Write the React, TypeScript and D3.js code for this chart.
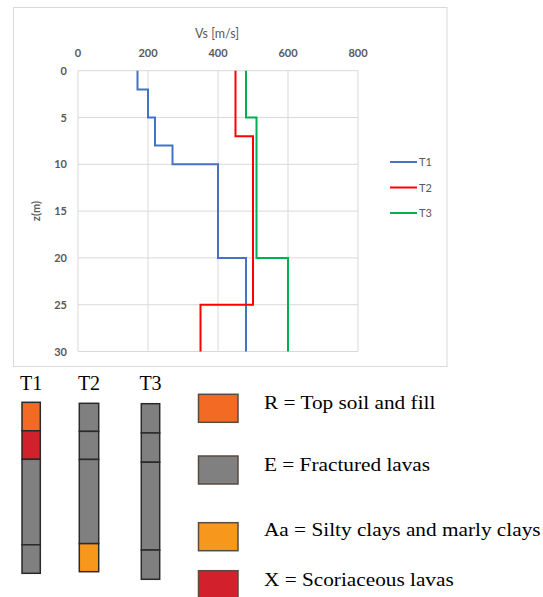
import React from "react";
import * as d3 from "d3";

// velocity profiles (layer tops in m, Vs in m/s)
const maxDepth = 30;
const t1Tops = [0, 2, 5, 8, 10, 20];
const t1Vs = [170, 200, 220, 270, 400, 480];
const t2Tops = [0, 7, 25];
const t2Vs = [450, 500, 350];
const t3Tops = [0, 5, 20];
const t3Vs = [480, 510, 600];

const seriesNames = ["T1", "T2", "T3"];
const seriesColors = ["#4472C4", "#FF0000", "#00B050"];

const vsTicks = [0, 200, 400, 600, 800];
const depthTicks = [0, 5, 10, 15, 20, 25, 30];

// borehole logs
const logBounds = [0, 5, 10, 25, 30];
const t1Layers = ["R", "X", "E", "E"];
const t2Layers = ["E", "E", "E", "Aa"];
const t3Layers = ["E", "E", "E", "E"];

const legendCodes = ["R", "E", "Aa", "X"];
const legendLabels = [
  "R = Top soil and fill",
  "E = Fractured lavas",
  "Aa = Silty clays and marly clays",
  "X = Scoriaceous lavas",
];

const layerColor: Record<string, string> = {
  R: "#F26A23",
  E: "#808080",
  Aa: "#F7981C",
  X: "#D2202C",
};

const W = 543;
const H = 597;

const x = d3.scaleLinear().domain([0, 800]).range([78, 358]);
const y = d3.scaleLinear().domain([0, 30]).range([70.7, 351.5]);

function stepPoints(tops: number[], vs: number[]): [number, number][] {
  const pts: [number, number][] = [];
  tops.forEach((t, i) => {
    const bottom = i < tops.length - 1 ? tops[i + 1] : maxDepth;
    pts.push([vs[i], t]);
    pts.push([vs[i], bottom]);
  });
  return pts;
}

const profiles = [
  stepPoints(t1Tops, t1Vs),
  stepPoints(t2Tops, t2Vs),
  stepPoints(t3Tops, t3Vs),
];

const line = d3
  .line<[number, number]>()
  .x((d) => x(d[0]))
  .y((d) => y(d[1]));

// column placement for each log
const columns = [
  { name: "T1", layers: t1Layers, x0: 22, x1: 40.3, y0: 402.3, y1: 573.3 },
  { name: "T2", layers: t2Layers, x0: 79.3, x1: 98.7, y0: 403.3, y1: 571.7 },
  { name: "T3", layers: t3Layers, x0: 141.3, x1: 159.7, y0: 403.7, y1: 579.3 },
];

const legendBoxY = [394.3, 456, 522.7, 570.7];
const legendTextY = [408.5, 471, 535.5, 585.5];

const axisFont = "Lato, 'Open Sans', sans-serif";
const serif = "'Liberation Serif', 'Times New Roman', serif";

export default function App() {
  return (
    <svg
      width={W}
      height={H}
      style={{ position: "absolute", left: 0, top: 0, background: "#fff" }}
    >
      {/* chart frame */}
      <rect x={13.5} y={7.5} width={433.5} height={359} fill="#fff" stroke="#D9D9D9" strokeWidth={1} />

      {/* grid */}
      {vsTicks.map((t) => (
        <line key={"gx" + t} x1={x(t)} x2={x(t)} y1={y(0)} y2={y(30)} stroke="#D9D9D9" strokeWidth={1} />
      ))}
      {depthTicks.map((t) => (
        <line key={"gy" + t} x1={x(0)} x2={x(800)} y1={y(t)} y2={y(t)} stroke="#D9D9D9" strokeWidth={1} />
      ))}

      {/* tick labels */}
      {vsTicks.map((t) => (
        <text key={"tx" + t} x={x(t)} y={57} textAnchor="middle" fontFamily={axisFont} fontSize={11} fontWeight="bold" fill="#595959">
          {t}
        </text>
      ))}
      {depthTicks.map((t) => (
        <text key={"ty" + t} x={67} y={y(t) + 4} textAnchor="end" fontFamily={axisFont} fontSize={11} fontWeight="bold" fill="#595959">
          {t}
        </text>
      ))}
      <text x={217} y={38} textAnchor="middle" fontFamily={axisFont} fontSize={12.5} fill="#595959">
        Vs [m/s]
      </text>
      <text
        transform={`translate(40,${(y(0) + y(30)) / 2}) rotate(-90)`}
        textAnchor="middle"
        fontFamily={axisFont}
        fontSize={11}
        fontWeight="bold"
        fill="#595959"
      >
        z(m)
      </text>

      {/* profiles */}
      {profiles.map((p, i) => (
        <path key={"p" + i} d={line(p) || ""} fill="none" stroke={seriesColors[i]} strokeWidth={2} />
      ))}

      {/* series legend */}
      {seriesNames.map((n, i) => (
        <g key={"l" + n} transform={`translate(390,${162 + i * 25.5})`}>
          <line x1={0} x2={27} y1={0} y2={0} stroke={seriesColors[i]} strokeWidth={2} />
          <text x={29} y={4} fontFamily={axisFont} fontSize={11} fill="#595959">
            {n}
          </text>
        </g>
      ))}

      {/* borehole columns */}
      {columns.map((c) => {
        const cy = d3.scaleLinear().domain([0, maxDepth]).range([c.y0, c.y1]);
        return (
          <g key={"c" + c.name}>
            <text x={(c.x0 + c.x1) / 2} y={390} textAnchor="middle" fontFamily={serif} fontSize={20} fill="#000">
              {c.name}
            </text>
            {c.layers.map((l, i) => (
              <rect
                key={i}
                x={c.x0}
                y={cy(logBounds[i])}
                width={c.x1 - c.x0}
                height={cy(logBounds[i + 1]) - cy(logBounds[i])}
                fill={layerColor[l]}
                stroke="#2a2a2a"
                strokeWidth={1.5}
              />
            ))}
          </g>
        );
      })}

      {/* layer legend */}
      {legendCodes.map((code, i) => (
        <g key={"lg" + code}>
          <rect
            x={198.5}
            y={legendBoxY[i]}
            width={39.5}
            height={28}
            fill={layerColor[code]}
            stroke="#5a4a40"
            strokeWidth={1.5}
          />
          <text
            transform={`translate(264,${legendTextY[i]}) scale(1.12,1)`}
            fontFamily={serif}
            fontSize={19}
            fill="#000"
          >
            {legendLabels[i]}
          </text>
        </g>
      ))}
    </svg>
  );
}
